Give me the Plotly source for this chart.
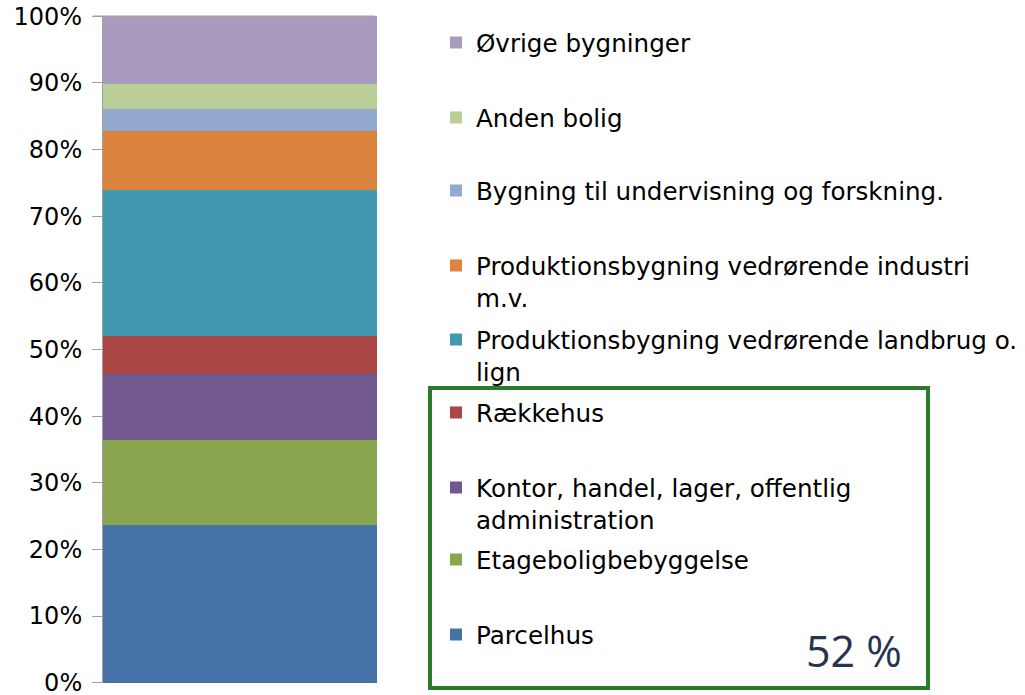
import plotly.graph_objects as go

categories = [""]
series_names = [
    "Parcelhus",
    "Etageboligbebyggelse",
    "Kontor, handel, lager, offentlig<br>administration",
    "Rækkehus",
    "Produktionsbygning vedrørende landbrug o.<br>lign",
    "Produktionsbygning vedrørende industri<br>m.v.",
    "Bygning til undervisning og forskning.",
    "Anden bolig",
    "Øvrige bygninger",
]
series_values = [23.6, 12.85, 9.9, 5.7, 21.95, 8.8, 3.3, 3.8, 10.1]
series_colors = ["#4572A7", "#89A54E", "#71588F", "#AA4643", "#4198AF",
                 "#DB843D", "#93A9CF", "#B9CD96", "#A99BBD"]
tick_values = [i / 10 for i in range(11)]
tick_labels = [f"{i * 10}%" for i in range(11)]
highlight_label = "52 %"

W, H = 1025, 695
FONT = "DejaVu Sans"

# first-line centre (px from top) for each legend item, bottom series first
legend_centers = [634, 559, 487, 412, 339, 265, 190, 117, 42]

fig = go.Figure()
for i, (name, val, col) in enumerate(zip(series_names, series_values, series_colors)):
    lg = "legend" if i == 0 else f"legend{i+1}"
    fig.add_trace(go.Bar(
        x=categories, y=[val / 100], name=name,
        marker=dict(color=col, line=dict(width=0)),
        legend=lg, showlegend=True,
    ))

layout_legends = {}
for i, c in enumerate(legend_centers):
    key = "legend" if i == 0 else f"legend{i+1}"
    layout_legends[key] = dict(
        x=436 / W, xanchor="left",
        y=1 - (c - 22) / H, yanchor="top",
        bgcolor="rgba(0,0,0,0)", borderwidth=0,
        font=dict(family=FONT, size=24.6, color="#000000"),
        valign="top",
    )

fig.update_layout(
    width=W, height=H,
    margin=dict(l=0, r=0, t=0, b=0, autoexpand=False),
    paper_bgcolor="white", plot_bgcolor="white",
    barmode="stack", bargap=0,
    xaxis=dict(domain=[103 / W, 377 / W], showticklabels=False, showgrid=False,
               zeroline=False, showline=False, ticks=""),
    yaxis=dict(domain=[(H - 683) / H, (H - 16) / H], range=[-0.0005, 1.0005],
               tickvals=tick_values, ticktext=tick_labels,
               ticks="outside", ticklen=10, tickcolor="#a0a0a0", tickwidth=1,
               ticklabelstandoff=5, ticklabeloverflow="allow",
               showline=True, linecolor="#a0a0a0", linewidth=1,
               showgrid=False, zeroline=False, automargin=False,
               tickfont=dict(family=FONT, size=24, color="#000000")),
    font=dict(family=FONT),
    **layout_legends,
)

# thin top border line of plot area
fig.add_shape(type="line", xref="paper", yref="paper",
              x0=93 / W, x1=375 / W, y0=(H - 16) / H, y1=(H - 16) / H,
              line=dict(color="#a0a0a0", width=1))

# green highlight box
fig.add_shape(type="rect", xref="paper", yref="paper",
              x0=430 / W, x1=928 / W, y0=(H - 688) / H, y1=(H - 388) / H,
              line=dict(color="#2E7A2B", width=4), fillcolor="rgba(0,0,0,0)")

fig.add_annotation(text=highlight_label, xref="paper", yref="paper",
                   x=904 / W, y=1 - 650 / H, xanchor="right", yanchor="middle",
                   showarrow=False,
                   font=dict(family="Open Sans", size=43, color="#263450"))

fig.write_html("out.html", config={"displayModeBar": False},
               post_script="document.body.style.margin='0';")
